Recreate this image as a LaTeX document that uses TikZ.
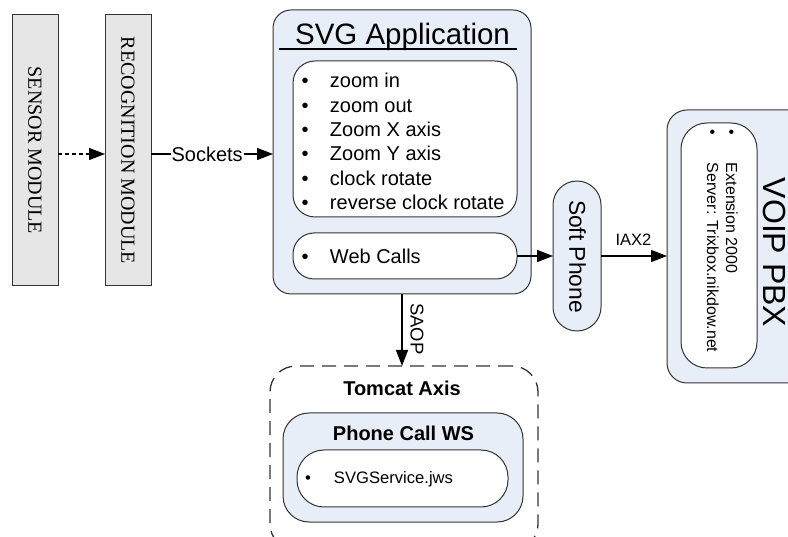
\documentclass[tikz,border=0pt]{standalone}
\usepackage{fontspec}
\setmainfont{Liberation Sans}
\newfontfamily\modfont{Liberation Serif}
\usetikzlibrary{arrows.meta}
\definecolor{panelblue}{RGB}{232,238,247}
\definecolor{modgray}{RGB}{230,230,230}
\newcommand{\pxfont}[1]{\fontsize{#1pt}{#1pt}\selectfont}

\begin{document}
\begin{tikzpicture}[x=1pt,y=-1pt,
  box/.style={draw=black!80, line width=1pt, rectangle, inner sep=0pt, outer sep=0pt},
  module/.style={box, fill=modgray, minimum width=46pt, minimum height=271pt},
  panel/.style={box, fill=panelblue},
  card/.style={box, fill=white},
  link/.style={line width=1.4pt, -{Triangle[length=16pt,width=12pt]}},
  txt/.style={inner sep=0pt, outer sep=0pt},
]
\useasboundingbox (0,0) rectangle (788,537);
\clip (0,0) rectangle (788,537);

% capture modules
\node[module] (sensor) at (35,150.5) {};
\node[txt, rotate=-90, font=\modfont\pxfont{20}] (sensorlbl) at (sensor) {SENSOR MODULE};
\node[module] (recog) at (128,150.5) {};
\node[txt, rotate=-90, font=\modfont\pxfont{20}] (recoglbl) at (recog) {RECOGNITION MODULE};

% SVG application
\node[panel, rounded corners=18pt, minimum width=258pt, minimum height=284pt] (svgapp) at (402,152) {};
\node[txt, font=\pxfont{29.5}, anchor=base] (svgtitle) at (402.5,45) {SVG Application};
\draw[line width=1.5pt] (279,49) -- (517,49);

\node[card, rounded corners=22pt, minimum width=224pt, minimum height=156pt] (ops) at (405,139) {};
\foreach \t [count=\i] in {zoom in, zoom out, Zoom X axis, Zoom Y axis, clock rotate, reverse clock rotate}
  \node[txt, anchor=base west, font=\pxfont{20}] (op\i) at (301.5,63.7+24.3*\i) {\makebox[28.5pt][l]{•}\t};

\node[card, rounded corners=21pt, minimum width=224pt, minimum height=46pt] (web) at (405,256) {};
\node[txt, anchor=base west, font=\pxfont{20}] (weblbl) at (301.5,264) {\makebox[28.5pt][l]{•}Web Calls};

% soft phone
\node[panel, rounded corners=24pt, minimum width=48pt, minimum height=150pt] (soft) at (577,256) {};
\node[txt, rotate=-90, font=\pxfont{22.8}] (softlbl) at (577.5,256.5) {Soft Phone};

% VOIP PBX
\node[panel, rounded corners=20pt, minimum width=143pt, minimum height=273pt] (voip) at (738.5,246.5) {};
\node[card, rounded corners=26pt, minimum width=76pt, minimum height=245pt] (voipin) at (719,245.5) {};
\node[txt, rotate=-90, anchor=base west, font=\pxfont{16}] (ext) at (726,130) {\makebox[33pt][l]{•}Extension 2000};
\node[txt, rotate=-90, anchor=base west, font=\pxfont{16}] (srv) at (707,130) {\makebox[33pt][l]{•}Server: Trixbox.nikdow.net};
\node[txt, rotate=-90, font=\pxfont{32}] (voiplbl) at (774.5,252.5) {VOIP PBX};

% Tomcat Axis
\node[box, line width=1.3pt, dash pattern=on 14pt off 8pt, rounded corners=26pt, minimum width=268pt, minimum height=184pt] (tomcat) at (404,458) {};
\node[txt, font=\bfseries\pxfont{20}] (tomcatlbl) at (402,388) {Tomcat Axis};
\node[panel, rounded corners=26pt, minimum width=240pt, minimum height=109pt] (ws) at (403,467.5) {};
\node[txt, font=\bfseries\pxfont{20}] (wslbl) at (403.5,433) {Phone Call WS};
\node[card, rounded corners=27pt, minimum width=211pt, minimum height=57pt] (svc) at (402.5,478.5) {};
\node[txt, anchor=base west, font=\pxfont{16.6}] (svclbl) at (305,484) {\makebox[29pt][l]{•}SVGService.jws};

% connectors
\draw[link, dash pattern=on 4pt off 3pt] ([yshift=-3.5pt]sensor.east) -- ([yshift=-3.5pt]recog.west);
\draw[link] ([yshift=-3.5pt]recog.east) -- node[txt, pos=0.46, fill=white, inner xsep=1pt, font=\pxfont{20}] (socklbl) {Sockets} ([yshift=-2pt]svgapp.west);
\draw[link] (web.east) -- (web.east -| soft.west);
\draw[link] (soft.east) -- (soft.east -| voip.west);
\node[txt, font=\pxfont{16.5}] (iaxlbl) at (633.5,240) {IAX2};
\draw[link] (svgapp.south) -- (svgapp.south |- tomcat.north);
\node[txt, rotate=-90, font=\pxfont{18.5}] (saoplbl) at (417,329) {SAOP};
\end{tikzpicture}
\end{document}
